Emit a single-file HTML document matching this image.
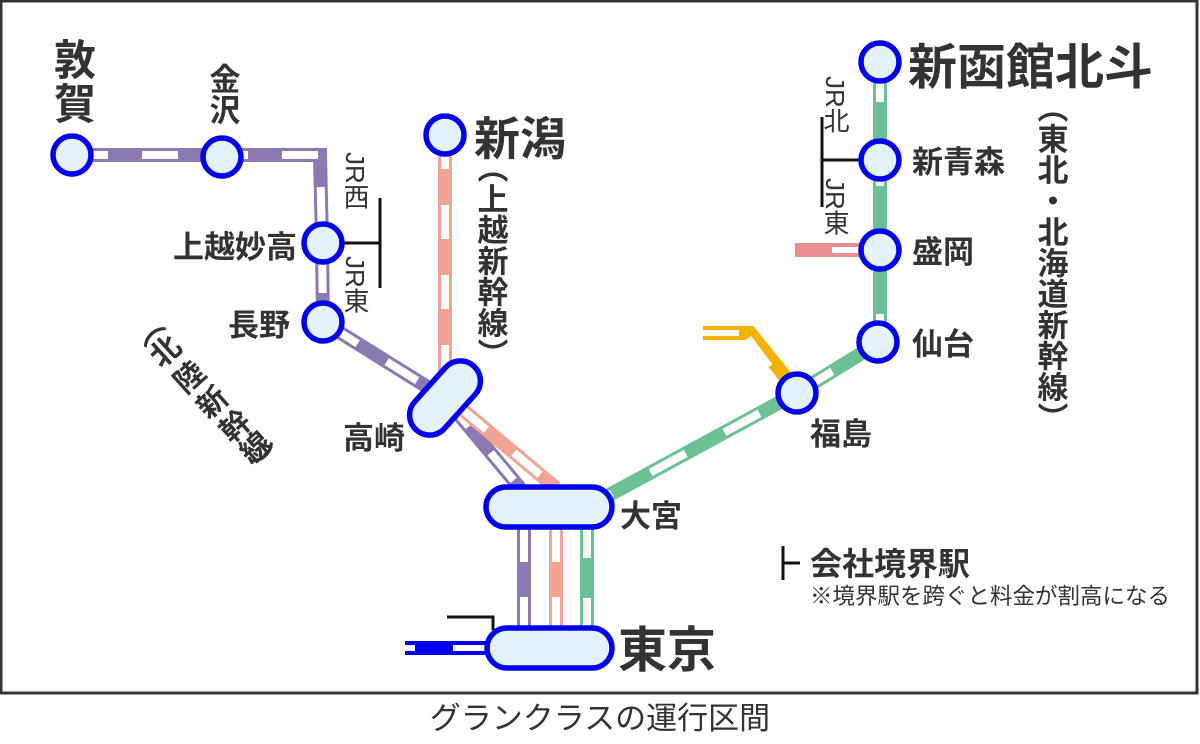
<!DOCTYPE html>
<html><head><meta charset="utf-8"><style>
html,body{margin:0;padding:0;background:#fff;}
svg{display:block;}
text{font-family:"Liberation Sans","Noto Sans CJK JP",sans-serif;fill:#333;}
.b{font-weight:bold;}
.v{writing-mode:vertical-rl;}
.c{text-anchor:middle;dominant-baseline:central;font-weight:bold;font-size:30px;}
</style></head><body>
<svg width="1200" height="744" viewBox="0 0 1200 744" xmlns="http://www.w3.org/2000/svg">
<rect x="1" y="1" width="1196" height="692" fill="#fff" stroke="#333" stroke-width="3"/>
<g fill="none" stroke-linejoin="miter">
<path d="M72,155 L320,155 L322,243 L323,322 L445,398 L520,488" stroke="#8c79b1" stroke-width="14"/>
<path d="M72,155 L320,155 L322,243 L323,322 L445,398 L520,488" stroke="#fff" stroke-width="8" stroke-dasharray="36,34"/>
<path d="M445,135 L445,395 L556,488" stroke="#f0a494" stroke-width="14"/>
<path d="M445,135 L445,395 L556,488" stroke="#fff" stroke-width="8" stroke-dasharray="34,36"/>
<path d="M880,62 L880,342 L797,393 L600,500" stroke="#6cc194" stroke-width="14"/>
<path d="M880,62 L880,342 L797,393 L600,500" stroke="#fff" stroke-width="8" stroke-dasharray="40,44"/>
<path d="M524,520 V632" stroke="#8c79b1" stroke-width="14"/>
<path d="M524,520 V632" stroke="#fff" stroke-width="8" stroke-dasharray="42,35"/>
<path d="M556,520 V632" stroke="#f0a494" stroke-width="14"/>
<path d="M556,520 V632" stroke="#fff" stroke-width="8" stroke-dasharray="42,35"/>
<path d="M587,520 V632" stroke="#6cc194" stroke-width="14"/>
<path d="M587,520 V632" stroke="#fff" stroke-width="8" stroke-dasharray="38,40"/>
<path d="M795,250 H865" stroke="#ea8e92" stroke-width="14"/>
<path d="M832,250 H865" stroke="#fff" stroke-width="6"/>
<path d="M703,333 H750 L788,380" stroke="#f2b200" stroke-width="14"/>
<path d="M703,333 H745 L770,366" stroke="#fff" stroke-width="6" stroke-dasharray="36,12"/>
<path d="M405,648 H490" stroke="#0000ee" stroke-width="14"/>
<path d="M405,648 H415 M453,648 H490" stroke="#fff" stroke-width="6"/>
<path d="M343,243 H380 M380,198 V288" stroke="#111" stroke-width="3"/>
<path d="M822,160 H870 M822,117 V207" stroke="#111" stroke-width="3"/>
<path d="M447,617 H493 V630" stroke="#111" stroke-width="3"/>
<path d="M783,546 V580 M783,563 H800" stroke="#111" stroke-width="3"/>
</g>
<g fill="#e4f2fb" stroke="#0000ee" stroke-width="5.5">
<circle cx="72" cy="155" r="19"/>
<circle cx="222" cy="157" r="19"/>
<circle cx="323" cy="243" r="19"/>
<circle cx="323" cy="322" r="19"/>
<circle cx="445" cy="135" r="19"/>
<circle cx="880" cy="62" r="19"/>
<circle cx="880" cy="160" r="19"/>
<circle cx="880" cy="250" r="19"/>
<circle cx="878" cy="342" r="19"/>
<circle cx="797" cy="393" r="19"/>
<rect x="402" y="378" width="86" height="40" rx="20" transform="rotate(-48 445 398)"/>
<rect x="486" y="487" width="126" height="40" rx="20"/>
<rect x="487" y="628" width="125" height="40" rx="20"/>
</g>
<g>
<text class="b v" x="72" y="38" font-size="42" letter-spacing="2">敦賀</text>
<text class="b v" x="222" y="63" font-size="31">金沢</text>
<text class="b" x="297" y="258" font-size="31" text-anchor="end">上越妙高</text>
<text class="b" x="290" y="336" font-size="31" text-anchor="end">長野</text>
<text class="b" x="474" y="155" font-size="46">新潟</text>
<text class="b v" x="490" y="152" font-size="31">（上越新幹線）</text>
<text class="b" x="343" y="449" font-size="31">高崎</text>
<text class="b" x="620" y="527" font-size="31">大宮</text>
<text class="b" x="618" y="667" font-size="49">東京</text>
<text class="b" x="810" y="445" font-size="31">福島</text>
<text class="b" x="912" y="355" font-size="31">仙台</text>
<text class="b" x="912" y="263" font-size="31">盛岡</text>
<text class="b" x="912" y="173" font-size="31">新青森</text>
<text class="b" x="908" y="84" font-size="49">新函館北斗</text>
<text class="b v" x="1050" y="92" font-size="31">（東北・北海道新幹線）</text>
<text class="c" transform="translate(146,330) rotate(48)">（</text>
<text class="c" transform="translate(166,352) rotate(-42)">北</text>
<text class="c" transform="translate(190,378) rotate(-42)">陸</text>
<text class="c" transform="translate(213,403) rotate(-42)">新</text>
<text class="c" transform="translate(236,427) rotate(-42)">幹</text>
<text class="c" transform="translate(256,448) rotate(-42)">線</text>
<text class="c" transform="translate(268,462) rotate(48)">）</text>
<text class="v" x="355" y="152" font-size="26">JR西</text>
<text class="v" x="355" y="256" font-size="26">JR東</text>
<text class="v" x="835" y="76" font-size="26">JR北</text>
<text class="v" x="835" y="178" font-size="26">JR東</text>
<text class="b" x="810" y="575" font-size="32">会社境界駅</text>
<text x="810" y="604" font-size="22.5">※境界駅を跨ぐと料金が割高になる</text>
<text x="600" y="729" font-size="31" text-anchor="middle">グランクラスの運行区間</text>
</g>
</svg>
</body></html>
